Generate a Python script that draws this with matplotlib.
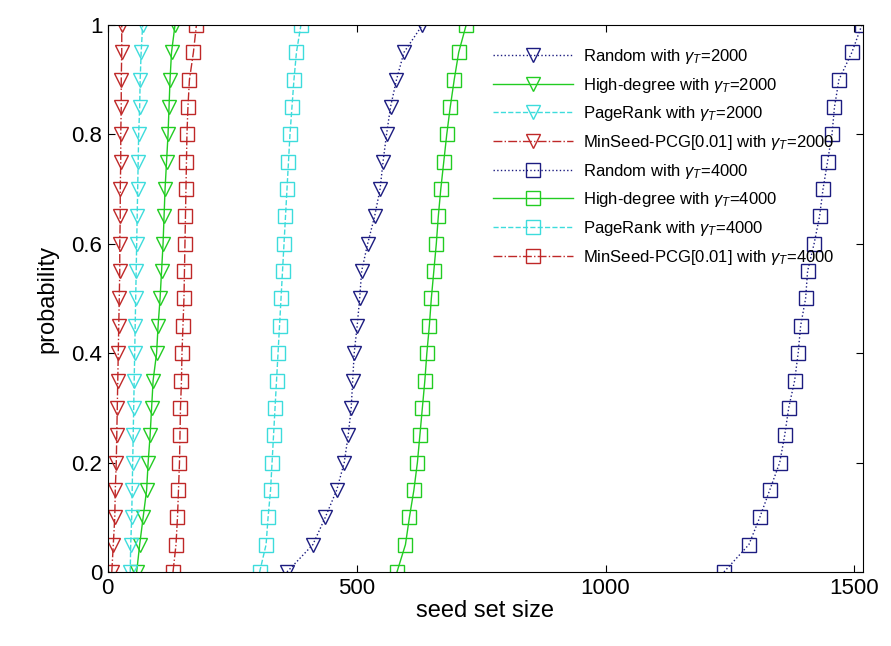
import matplotlib
matplotlib.use('Agg')
import matplotlib.pyplot as plt

plt.rcParams['font.family'] = ['Liberation Sans', 'DejaVu Sans']
plt.rcParams['mathtext.fontset'] = 'custom'
plt.rcParams['mathtext.rm'] = 'Liberation Sans'
plt.rcParams['mathtext.it'] = 'Liberation Sans:italic'

# probability levels (y axis)
prob = [0.0, 0.05, 0.1, 0.15, 0.2, 0.25, 0.3, 0.35, 0.4, 0.45, 0.5,
        0.55, 0.6, 0.65, 0.7, 0.75, 0.8, 0.85, 0.9, 0.95, 1.0]

# seed set sizes, gamma_T = 2000
random_2000 = [360, 412, 437, 460, 475, 483, 489, 492, 495, 501, 506,
               510, 522, 536, 547, 553, 560, 568, 580, 595, 632]
highdeg_2000 = [58, 64, 71, 78, 81, 85, 88, 91, 98, 101, 105,
                108, 111, 113, 115, 118, 121, 123, 125, 128, 135]
pagerank_2000 = [45, 46, 48, 49, 50, 51, 52, 53, 54, 55, 56,
                 57, 58, 59, 60, 61, 62, 64, 65, 67, 70]
minseed_2000 = [8, 11, 14, 15, 17, 18, 19, 20, 21, 22, 23,
                24, 24, 25, 25, 26, 26, 27, 27, 28, 28]

# seed set sizes, gamma_T = 4000
random_4000 = [1238, 1288, 1310, 1330, 1350, 1360, 1368, 1380, 1387, 1392, 1402,
               1406, 1419, 1430, 1437, 1446, 1455, 1460, 1469, 1495, 1515]
highdeg_4000 = [581, 598, 606, 615, 622, 627, 632, 637, 641, 646, 650,
                655, 660, 664, 669, 675, 681, 688, 696, 705, 720]
pagerank_4000 = [305, 318, 322, 327, 330, 333, 336, 339, 342, 345, 348,
                 351, 354, 357, 360, 363, 366, 370, 374, 379, 388]
minseed_4000 = [131, 137, 140, 142, 144, 145, 146, 148, 149, 151, 153,
                154, 155, 156, 157, 158, 159, 161, 164, 172, 178]

navy = '#1c1c80'
green = '#22cc22'
cyan = '#3ddcdc'
red = '#bf2828'

series = [
    (random_2000, navy, ':', 'v', r'Random with $\gamma_T$=2000'),
    (highdeg_2000, green, '-', 'v', r'High-degree with $\gamma_T$=2000'),
    (pagerank_2000, cyan, '--', 'v', r'PageRank with $\gamma_T$=2000'),
    (minseed_2000, red, '-.', 'v', r'MinSeed-PCG[0.01] with $\gamma_T$=2000'),
    (random_4000, navy, ':', 's', r'Random with $\gamma_T$=4000'),
    (highdeg_4000, green, '-', 's', r'High-degree with $\gamma_T$=4000'),
    (pagerank_4000, cyan, '--', 's', r'PageRank with $\gamma_T$=4000'),
    (minseed_4000, red, '-.', 's', r'MinSeed-PCG[0.01] with $\gamma_T$=4000'),
]

fig = plt.figure(figsize=(8.91, 6.46), dpi=100)
ax = fig.add_axes([0.121, 0.1146, 0.8474, 0.8467])

for xs, col, ls, mk, lab in series:
    ax.plot(xs, prob, color=col, linestyle=ls, linewidth=1.0,
            marker=mk, markersize=10, markerfacecolor='none',
            markeredgecolor=col, markeredgewidth=1.0, label=lab)

ax.set_xlim(0, 1517)
ax.set_ylim(0, 1)
ax.set_xticks([0, 500, 1000, 1500])
ax.set_yticks([0, 0.2, 0.4, 0.6, 0.8, 1.0])
ax.set_yticklabels(['0', '0.2', '0.4', '0.6', '0.8', '1'])
ax.tick_params(direction='in', top=True, right=True, length=5,
               labelsize=16, pad=4)
ax.set_xlabel('seed set size', fontsize=17, labelpad=1)
ax.set_ylabel('probability', fontsize=17, labelpad=9)

leg = ax.legend(loc='upper left', bbox_to_anchor=(493 / 891, 1 - 47 / 646),
                bbox_transform=fig.transFigure, frameon=False, fontsize=12,
                handlelength=4.8, handletextpad=0.6, labelspacing=0.58,
                borderpad=0, borderaxespad=0)

fig.savefig('out.png', dpi=100)
